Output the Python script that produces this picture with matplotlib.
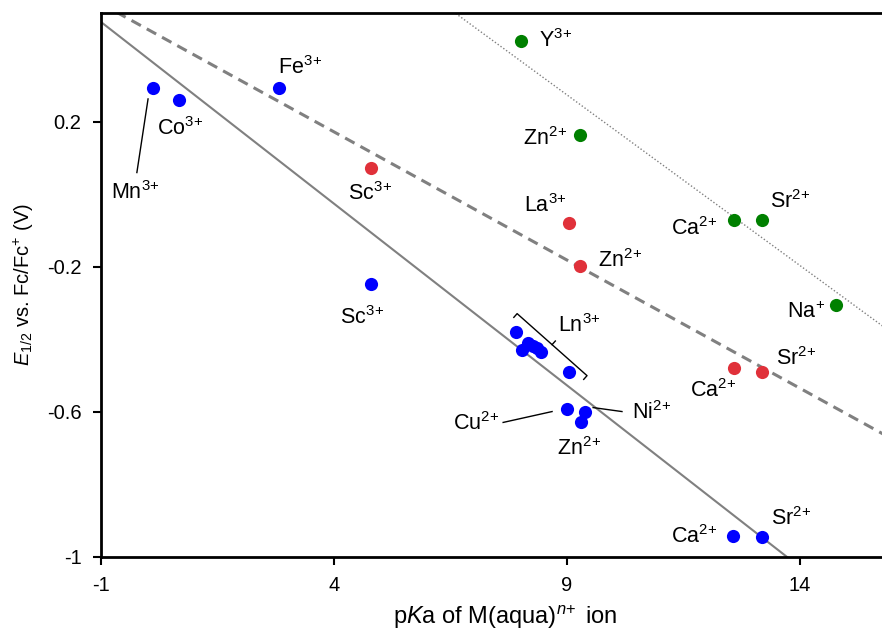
import numpy as np
import matplotlib
matplotlib.use("Agg")
import matplotlib.pyplot as plt

plt.rcParams['font.family'] = ['Liberation Sans', 'DejaVu Sans']
plt.rcParams['mathtext.fontset'] = 'custom'
plt.rcParams['mathtext.rm'] = 'Liberation Sans'
plt.rcParams['mathtext.it'] = 'Liberation Sans:italic'
plt.rcParams['axes.unicode_minus'] = False

# blue series (solid fit line)
blue_x = [0.12, 0.67, 2.82, 4.79, 7.91, 8.03, 8.16, 8.26, 8.36, 8.44, 9.04, 9.00, 9.39, 9.30, 12.56, 13.18]
blue_y = [0.294, 0.261, 0.294, -0.246, -0.381, -0.428, -0.409, -0.418, -0.423, -0.436, -0.489,
          -0.591, -0.599, -0.629, -0.943, -0.946]

# red series (dashed fit line)
red_x = [4.79, 9.04, 9.28, 12.58, 13.18]
red_y = [0.073, -0.078, -0.199, -0.480, -0.489]

# green series (dotted fit line)
green_x = [8.01, 9.28, 12.58, 13.18, 14.77]
green_y = [0.423, 0.164, -0.07, -0.07, -0.304]

# fit lines: slope, intercept
fit_solid = (-0.1002, 0.375)
fit_dashed = (-0.0707, 0.455)
fit_dotted = (-0.0941, 1.121)

x_ticks = [-1, 4, 9, 14]
y_ticks = [-1, -0.6, -0.2, 0.2]
y_ticklabels = ['-1', '-0.6', '-0.2', '0.2']

fig = plt.figure(figsize=(8.82, 6.3), dpi=100)
ax = fig.add_axes([0.1145, 0.1159, 0.8855, 0.8635])

xx = np.array([-1, 16.5])
ax.plot(xx, fit_solid[0] * xx + fit_solid[1], color='#808080', lw=1.5, zorder=1)
ax.plot(xx, fit_dashed[0] * xx + fit_dashed[1], color='#808080', lw=2.2, ls=(0, (3.5, 2.2)), zorder=1)
ax.plot(xx, fit_dotted[0] * xx + fit_dotted[1], color='#808080', lw=1.0, ls=(0, (1, 1.5)), zorder=1)

ax.scatter(blue_x, blue_y, s=90, color='#0000FF', zorder=3, linewidths=0)
ax.scatter(red_x, red_y, s=90, color='#E0313A', zorder=3, linewidths=0)
ax.scatter(green_x, green_y, s=90, color='#008000', zorder=3, linewidths=0)

fs = 15.5
def lab(x, y, s, ha='center'):
    ax.text(x, y, s, fontsize=fs, ha=ha, va='center', zorder=4)

def ion(el, charge):
    # superscript charge without the binary-operator gap
    return el + '$^{' + charge.replace('+', r'\!+') + '}$'

# blue labels
lab(-0.27, 0.004, ion('Mn', '3+'))
ax.plot([-0.23, 0.01], [0.06, 0.263], color='black', lw=1)
lab(0.70, 0.18, ion('Co', '3+'))
lab(3.27, 0.349, ion('Fe', '3+'))
lab(4.60, -0.34, ion('Sc', '3+'))
lab(8.81, -0.362, ion('Ln', '3+'), ha='left')
lab(7.56, -0.632, ion('Cu', '2+'), ha='right')
ax.plot([7.63, 8.68], [-0.629, -0.599], color='black', lw=1)
lab(10.39, -0.602, ion('Ni', '2+'), ha='left')
ax.plot([10.18, 9.56], [-0.599, -0.588], color='black', lw=1)
lab(9.26, -0.70, ion('Zn', '2+'))
lab(12.24, -0.943, ion('Ca', '2+'), ha='right')
lab(13.38, -0.894, ion('Sr', '2+'), ha='left')

# Ln3+ bracket
bx = [7.93 - 0.071, 7.93, 9.43, 9.43 - 0.071]
by = [-0.329 - 0.0103, -0.329, -0.500, -0.500 - 0.0103]
ax.plot(bx, by, color='black', lw=1)
ax.plot([8.68, 8.68 + 0.07], [-0.4145, -0.4045], color='black', lw=1)

# red labels
lab(4.77, 0.002, ion('Sc', '3+'))
lab(9.0, -0.031, ion('La', '3+'), ha='right')
lab(9.67, -0.183, ion('Zn', '2+'), ha='left')
lab(12.13, -0.541, ion('Ca', '2+'))
lab(13.48, -0.453, ion('Sr', '2+'), ha='left')

# green labels
lab(8.40, 0.423, ion('Y', '3+'), ha='left')
lab(9.0, 0.153, ion('Zn', '2+'), ha='right')
lab(12.22, -0.095, ion('Ca', '2+'), ha='right')
lab(13.36, -0.02, ion('Sr', '2+'), ha='left')
lab(14.54, -0.326, ion('Na', '+'), ha='right')

ax.set_xlim(-1, 15.76)
ax.set_ylim(-1, 0.5)
ax.set_xticks(x_ticks)
ax.set_yticks(y_ticks)
ax.set_yticklabels(y_ticklabels)
ax.tick_params(direction='out', length=6, width=1.5, labelsize=14.5, pad=8)

for side in ['left', 'bottom', 'top']:
    ax.spines[side].set_linewidth(2)
ax.spines['right'].set_visible(False)

ax.set_xlabel(r'p$K$a of M(aqua)$^{n\!+}$ ion', fontsize=17)
ax.xaxis.set_label_coords(0.518, -0.084)
ax.set_ylabel(r'$E_{1/2}$ vs. Fc/Fc$^{+}$ (V)', fontsize=14.5, labelpad=8)

fig.savefig('out.png', dpi=100)
